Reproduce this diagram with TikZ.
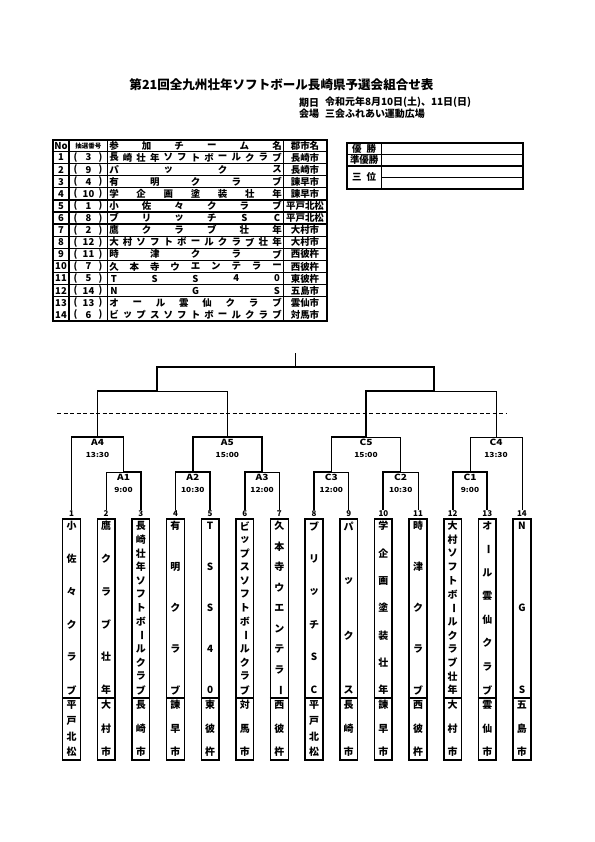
\documentclass[tikz,border=0pt]{standalone}
\usepackage{fontspec}
\setmainfont{Noto Sans CJK JP}
\usepackage{tikz}
\usetikzlibrary{positioning}

\tikzset{
    fin/.style={line width=0.9bp},
    epais/.style={line width=1.8bp},
    trait/.style={line width=1.3bp},
    cadre/.style={line width=2bp},
    pointille/.style={line width=1.5bp, dash pattern=on 4bp off 2.5bp},
    titre/.style={font=\bfseries\fontsize{12.6}{13}\selectfont, inner sep=0pt},
    soustitre/.style={font=\bfseries\fontsize{10}{11}\selectfont, inner sep=0pt, anchor=west},
    tcar/.style={font=\bfseries\fontsize{9.5}{10}\selectfont, inner sep=0pt},
    vcar/.style={font=\bfseries\fontsize{10}{10}\selectfont, inner sep=0pt},
    numero/.style={font=\bfseries\fontsize{8}{8}\selectfont, inner sep=0.6bp},
    match/.style={font=\bfseries\fontsize{8.5}{9}\selectfont, inner sep=0pt, xscale=1.2},
    heure/.style={font=\bfseries\fontsize{7}{7}\selectfont, inner sep=0pt, xscale=1.2},
    equipe/.style={draw, line width=1.5bp, minimum width=17.7bp, minimum height=241bp,
        inner sep=0pt},
}

\newcommand{\vbar}{\rotatebox[origin=c]{-90}{ー}}

% ligne du tableau : No, tirage, nb car., noms, ville, y
\newcommand{\ligne}[6]{%
    \node[tcar] (no#1) at (61,#6) {#1};
    \node[tcar] (pg#1) at (75.5,#6) {(};
    \node[tcar] (ti#1) at (88.5,#6) {#2};
    \node[tcar] (pd#1) at (100.5,#6) {)};
    \foreach \zi [count=\k] in {#4}
        \node[tcar] (nom#1-\k) at ({114+(\k-1)*163/(#3-1)},#6) {\zi};
    \node[tcar] (ville#1) at (305,#6) {#5};
}

% colonne d'équipe : numéro, x, nb car., noms, nb car. ville, ville
\newcommand{\equipe}[6]{%
    \node[numero] (n#1) at (#2,514) {#1};
    \node[equipe] (b#1) at (#2,639.5) {};
    \draw[trait] (b#1.west |- 0,698) -- (b#1.east |- 0,698);
    \foreach \zi [count=\k] in {#4}
        \node[vcar] (b#1-\k) at (#2,{526+(\k-1)*164/(#3-1)}) {\zi};
    \foreach \zi [count=\k] in {#6}
        \node[vcar] (c#1-\k) at (#2,{705+(\k-1)*47/(#5-1)}) {\zi};
}

\begin{document}
\begin{tikzpicture}[x=1bp, y=-1bp]

        \useasboundingbox (0,0) rectangle (595,842);

        %% ── Titre ──────────────────────────────────────────────────────────
        \node[titre] (titre) at (281.5,85)
            {第21回全九州壮年ソフトボール長崎県予選会組合せ表};
        \node[soustitre] (kijitsu) at (299,102.7) {期日};
        \node[soustitre] (date) at (325,102.7) {令和元年8月10日(土)、11日(日)};
        \node[soustitre] (kaijo) at (299,113.3) {会場};
        \node[soustitre] (lieu) at (325,113.3) {三会ふれあい運動広場};

        %% ── Tableau des équipes ────────────────────────────────────────────
        \draw[cadre] (53.3,140) rectangle (327,320.9);
        \foreach \k in {0,...,12}
            \draw[trait] (53.3,{151.5+12.1*\k}) -- (327,{151.5+12.1*\k});
        \foreach \x in {69,107.5,283.3}
            \draw[trait] (\x,140) -- (\x,320.9);

        \node[tcar] (hno) at (61,145.75) {No};
        \node[tcar, font=\bfseries\fontsize{6.5}{7}\selectfont] (hti) at (88.3,145.75) {抽選番号};
        \foreach \zi [count=\k] in {参,加,チ,ー,ム,名}
            \node[tcar] (hnom-\k) at ({114+(\k-1)*163/5},145.75) {\zi};
        \node[tcar] (hville) at (305,145.75) {郡市名};

        \ligne{1}{3}{13}{長,崎,壮,年,ソ,フ,ト,ボ,ー,ル,ク,ラ,ブ}{長崎市}{157.55}
        \ligne{2}{9}{4}{パ,ッ,ク,ス}{長崎市}{169.65}
        \ligne{3}{4}{5}{有,明,ク,ラ,ブ}{諫早市}{181.75}
        \ligne{4}{10}{7}{学,企,画,塗,装,壮,年}{諫早市}{193.85}
        \ligne{5}{1}{6}{小,佐,々,ク,ラ,ブ}{平戸北松}{205.95}
        \ligne{6}{8}{6}{ブ,リ,ッ,チ,S,C}{平戸北松}{218.05}
        \ligne{7}{2}{6}{鷹,ク,ラ,ブ,壮,年}{大村市}{230.15}
        \ligne{8}{12}{13}{大,村,ソ,フ,ト,ボ,ー,ル,ク,ラ,ブ,壮,年}{大村市}{242.25}
        \ligne{9}{11}{5}{時,津,ク,ラ,ブ}{西彼杵}{254.35}
        \ligne{10}{7}{9}{久,本,寺,ウ,エ,ン,テ,ラ,ー}{西彼杵}{266.45}
        \ligne{11}{5}{5}{T,S,S,4,0}{東彼杵}{278.55}
        \ligne{12}{14}{3}{N,G,S}{五島市}{290.65}
        \ligne{13}{13}{8}{オ,ー,ル,雲,仙,ク,ラ,ブ}{雲仙市}{302.75}
        \ligne{14}{6}{13}{ビ,ッ,プ,ス,ソ,フ,ト,ボ,ー,ル,ク,ラ,ブ}{対馬市}{314.85}

        %% ── Résultats ──────────────────────────────────────────────────────
        \draw[cadre] (346.7,143.3) rectangle (522.7,188.5);
        \draw[trait] (346.7,154.7) -- (522.7,154.7);
        \draw[trait] (346.7,166) -- (522.7,166);
        \draw[trait] (381.7,177.7) -- (522.7,177.7);
        \draw[trait] (381.7,143.3) -- (381.7,188.5);
        \node[tcar] (yusho) at (364.2,149) {優\hspace{5bp}勝};
        \node[tcar] (junyusho) at (364.2,160.3) {準優勝};
        \node[tcar] (sani) at (364.2,177.2) {三\hspace{5bp}位};

        %% ── Colonnes des équipes ───────────────────────────────────────────
        \equipe{1}{71.5}{6}{小,佐,々,ク,ラ,ブ}{4}{平,戸,北,松}
        \equipe{2}{106.15}{6}{鷹,ク,ラ,ブ,壮,年}{3}{大,村,市}
        \equipe{3}{140.8}{13}{長,崎,壮,年,ソ,フ,ト,ボ,\vbar,ル,ク,ラ,ブ}{3}{長,崎,市}
        \equipe{4}{175.45}{5}{有,明,ク,ラ,ブ}{3}{諫,早,市}
        \equipe{5}{210.1}{5}{T,S,S,4,0}{3}{東,彼,杵}
        \equipe{6}{244.75}{13}{ビ,ッ,プ,ス,ソ,フ,ト,ボ,\vbar,ル,ク,ラ,ブ}{3}{対,馬,市}
        \equipe{7}{279.4}{9}{久,本,寺,ウ,エ,ン,テ,ラ,\vbar}{3}{西,彼,杵}
        \equipe{8}{314.05}{6}{ブ,リ,ッ,チ,S,C}{4}{平,戸,北,松}
        \equipe{9}{348.7}{4}{パ,ッ,ク,ス}{3}{長,崎,市}
        \equipe{10}{383.35}{7}{学,企,画,塗,装,壮,年}{3}{諫,早,市}
        \equipe{11}{418}{5}{時,津,ク,ラ,ブ}{3}{西,彼,杵}
        \equipe{12}{452.65}{13}{大,村,ソ,フ,ト,ボ,\vbar,ル,ク,ラ,ブ,壮,年}{3}{大,村,市}
        \equipe{13}{487.3}{8}{オ,\vbar,ル,雲,仙,ク,ラ,ブ}{3}{雲,仙,市}
        \equipe{14}{521.95}{3}{N,G,S}{3}{五,島,市}

        %% ── Tableau de tournoi ─────────────────────────────────────────────
        \coordinate (A1) at (123.5,472);
        \coordinate (A2) at (192.8,472);
        \coordinate (A3) at (262.1,472);
        \coordinate (C3) at (331.4,472);
        \coordinate (C2) at (400.7,472);
        \coordinate (C1) at (470,472);
        \coordinate (A4) at (97.5,437);
        \coordinate (A5) at (227.4,437);
        \coordinate (C5) at (366,437);
        \coordinate (C4) at (496,437);
        \coordinate (G) at (157.3,391);
        \coordinate (D) at (434.3,391);
        \coordinate (F) at (295.8,367);
        \coordinate (haut) at (295.8,353);

        \draw[fin] (F) -- (haut);
        \draw[epais] (G) |- (F);
        \draw[epais] (D) |- (F);
        \draw[epais] (A4) |- (G);
        \draw[fin] (A5) |- (G);
        \draw[epais] (C5) |- (D);
        \draw[fin] (C4) |- (D);

        \draw[epais] (n1.north) |- (A4);
        \draw[epais] (A1) |- (A4);
        \draw[fin] (n2.north) |- (A1);
        \draw[epais] (n3.north) |- (A1);
        \draw[epais] (A2) |- (A5);
        \draw[epais] (A3) |- (A5);
        \draw[epais] (n4.north) |- (A2);
        \draw[epais] (n5.north) |- (A2);
        \draw[epais] (n6.north) |- (A3);
        \draw[fin] (n7.north) |- (A3);
        \draw[epais] (C3) |- (C5);
        \draw[fin] (C2) |- (C5);
        \draw[epais] (n8.north) |- (C3);
        \draw[fin] (n9.north) |- (C3);
        \draw[epais] (n10.north) |- (C2);
        \draw[fin] (n11.north) |- (C2);
        \draw[fin] (C1) |- (C4);
        \draw[fin] (n14.north) |- (C4);
        \draw[epais] (n12.north) |- (C1);
        \draw[epais] (n13.north) |- (C1);

        \draw[pointille] (57,413.3) -- (505.7,413.3);

        %% ── Matchs et horaires ─────────────────────────────────────────────
        \node[match, below=2bp of A4] (lA4) {A4};
        \node[heure, below=6.5bp of lA4] (hA4) {13:30};
        \node[match, below=2bp of A5] (lA5) {A5};
        \node[heure, below=6.5bp of lA5] (hA5) {15:00};
        \node[match, below=2bp of C5] (lC5) {C5};
        \node[heure, below=6.5bp of lC5] (hC5) {15:00};
        \node[match, below=2bp of C4] (lC4) {C4};
        \node[heure, below=6.5bp of lC4] (hC4) {13:30};
        \node[match, below=2bp of A1] (lA1) {A1};
        \node[heure, below=6.5bp of lA1] (hA1) {9:00};
        \node[match, below=2bp of A2] (lA2) {A2};
        \node[heure, below=6.5bp of lA2] (hA2) {10:30};
        \node[match, below=2bp of A3] (lA3) {A3};
        \node[heure, below=6.5bp of lA3] (hA3) {12:00};
        \node[match, below=2bp of C3] (lC3) {C3};
        \node[heure, below=6.5bp of lC3] (hC3) {12:00};
        \node[match, below=2bp of C2] (lC2) {C2};
        \node[heure, below=6.5bp of lC2] (hC2) {10:30};
        \node[match, below=2bp of C1] (lC1) {C1};
        \node[heure, below=6.5bp of lC1] (hC1) {9:00};

\end{tikzpicture}
\end{document}
